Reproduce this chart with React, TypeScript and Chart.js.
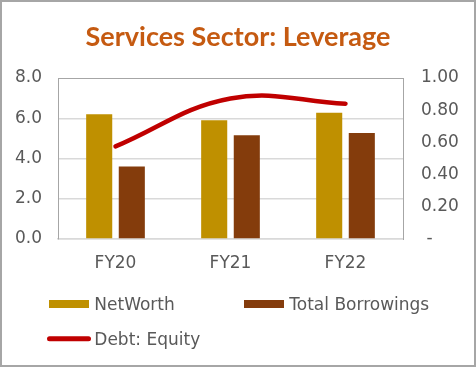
import React, { useEffect, useRef } from 'react';
import { Chart, registerables } from 'chart.js';

Chart.register(...registerables);

const categories = ['FY20', 'FY21', 'FY22'];
const netWorth = [6.2, 5.9, 6.27];
const totalBorrowings = [3.6, 5.15, 5.27];
const debtEquity = [0.575, 0.873, 0.84];
const seriesLabels = ['NetWorth', 'Total Borrowings', 'Debt: Equity'];
const leftAxis = { min: 0, max: 8, step: 2 };
const rightAxis = { min: 0, max: 1, step: 0.2 };
const titleText = 'Services Sector: Leverage';

const TEXT = '#595959';
const FONT = 'DejaVu Sans';

const legendPlugin = {
  id: 'customLegend',
  afterDraw(chart: any) {
    const ctx = chart.ctx;
    const ds = chart.data.datasets;
    ctx.save();
    ctx.font = `17px "${FONT}"`;
    ctx.fillStyle = TEXT;
    ctx.textBaseline = 'alphabetic';
    ctx.textAlign = 'left';
    const boxes = [
      { i: 0, x: 47, y: 298, tx: 92.3, ty: 308 },
      { i: 1, x: 242, y: 298, tx: 287.3, ty: 308 },
    ];
    boxes.forEach((b) => {
      ctx.fillStyle = ds[b.i].backgroundColor;
      ctx.fillRect(b.x, b.y, 40, 8);
      ctx.fillStyle = TEXT;
      ctx.fillText(ds[b.i].label, b.tx, b.ty);
    });
    ctx.strokeStyle = ds[2].borderColor;
    ctx.lineWidth = 5;
    ctx.lineCap = 'round';
    ctx.beginPath();
    ctx.moveTo(47.5, 336.7);
    ctx.lineTo(86.5, 336.7);
    ctx.stroke();
    ctx.fillStyle = TEXT;
    ctx.fillText(ds[2].label, 92.3, 343);
    ctx.restore();
  },
};

export default function App() {
  const ref = useRef<HTMLCanvasElement>(null);
  useEffect(() => {
    document.body.style.margin = '0';
    if (!ref.current) return;
    const chart = new Chart(ref.current, {
      type: 'bar',
      data: {
        labels: categories,
        datasets: [
          {
            type: 'bar',
            label: seriesLabels[0],
            data: netWorth,
            backgroundColor: '#BF9000',
            yAxisID: 'y',
            order: 1,
            barPercentage: 0.8,
            categoryPercentage: 0.567,
          },
          {
            type: 'bar',
            label: seriesLabels[1],
            data: totalBorrowings,
            backgroundColor: '#843C0C',
            yAxisID: 'y',
            order: 1,
            barPercentage: 0.8,
            categoryPercentage: 0.567,
          },
          {
            type: 'line',
            label: seriesLabels[2],
            data: debtEquity,
            borderColor: '#C00000',
            backgroundColor: '#C00000',
            borderWidth: 4.5,
            borderCapStyle: 'round',
            pointRadius: 0,
            tension: 0.4,
            yAxisID: 'y1',
            order: 0,
          } as any,
        ],
      },
      options: {
        animation: false,
        responsive: false,
        layout: { padding: { left: 0, right: 0, top: 0, bottom: 76 } },
        plugins: {
          legend: { display: false },
          tooltip: { enabled: false },
          title: {
            display: true,
            text: titleText,
            color: '#C55A11',
            font: { family: 'Lato', size: 27, weight: 'bold', lineHeight: 1.2 },
            padding: { top: 19, bottom: 24.6 },
          },
        },
        scales: {
          x: {
            grid: { display: false },
            border: { display: true, color: '#D9D9D9', width: 1.5 },
            ticks: { color: TEXT, font: { family: FONT, size: 17 }, padding: 6 },
            afterFit: (s: any) => { s.height = 50; },
          },
          y: {
            position: 'left',
            min: leftAxis.min,
            max: leftAxis.max,
            ticks: {
              stepSize: leftAxis.step,
              color: TEXT,
              font: { family: FONT, size: 17 },
              padding: 16,
              callback: (v: any) => Number(v).toFixed(1),
            },
            grid: {
              drawTicks: false,
              color: (c: any) => (c.tick && c.tick.value === leftAxis.max ? '#A6A6A6' : '#D9D9D9'),
              lineWidth: (c: any) => (c.tick && c.tick.value === leftAxis.max ? 1 : 1.5),
            },
            border: { display: true, color: '#A6A6A6', width: 1 },
            afterFit: (s: any) => { s.width = 56; },
          },
          y1: {
            position: 'right',
            min: rightAxis.min,
            max: rightAxis.max,
            ticks: {
              stepSize: rightAxis.step,
              color: TEXT,
              font: { family: FONT, size: 17 },
              padding: 18,
              callback: (v: any) => (Number(v) === 0 ? ' -' : Number(v).toFixed(2)),
            },
            grid: { display: false, drawTicks: false },
            border: { display: true, color: '#A6A6A6', width: 1 },
            afterFit: (s: any) => { s.width = 71; },
          },
        },
      },
      plugins: [legendPlugin],
    } as any);
    return () => chart.destroy();
  }, []);
  return (
    <div
      style={{
        width: 476,
        height: 367,
        boxSizing: 'border-box',
        border: '2px solid #A6A6A6',
        background: '#fff',
      }}
    >
      <canvas ref={ref} width={472} height={363} style={{ display: 'block', width: 472, height: 363 }} />
    </div>
  );
}
